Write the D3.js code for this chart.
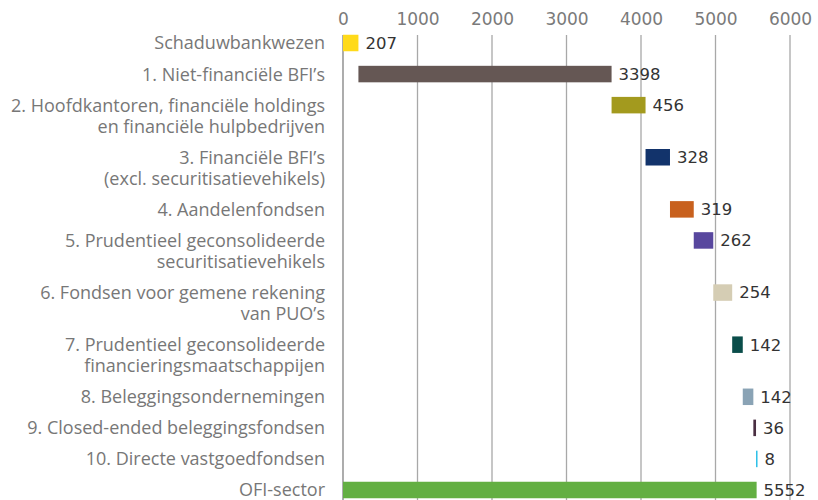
<!DOCTYPE html>
<html>
<head>
<meta charset="utf-8">
<script src="https://cdn.jsdelivr.net/npm/d3@7"></script>
<style>
  body { margin: 0; background: #fff; }
</style>
</head>
<body>
<div id="chart"></div>
<script>
// categories, each label split into its lines
var labels = [
  ["Schaduwbankwezen"],
  ["1. Niet-financiële BFI’s"],
  ["2. Hoofdkantoren, financiële holdings", "en financiële hulpbedrijven"],
  ["3. Financiële BFI’s", "(excl. securitisatievehikels)"],
  ["4. Aandelenfondsen"],
  ["5. Prudentieel geconsolideerde", "securitisatievehikels"],
  ["6. Fondsen voor gemene rekening", "van PUO’s"],
  ["7. Prudentieel geconsolideerde", "financieringsmaatschappijen"],
  ["8. Beleggingsondernemingen"],
  ["9. Closed-ended beleggingsfondsen"],
  ["10. Directe vastgoedfondsen"],
  ["OFI-sector"]
];
var values = [207, 3398, 456, 328, 319, 262, 254, 142, 142, 36, 8, 5552];
// true = bar starts at 0 (totals), false = floats on previous running sum
var isTotal = [true, false, false, false, false, false, false, false, false, false, false, true];
var colors = ["#ffda1a", "#655754", "#a39a1e", "#12336b", "#c8611e", "#58479e",
              "#d5cdb4", "#0a4d4a", "#8aa3b5", "#4a2f42", "#2cc0e8", "#63af42"];
var ticks = [0, 1000, 2000, 3000, 4000, 5000, 6000];

var width = 818, height = 500;
var x0 = 343, x1 = 790;
var lineStep = 21, rowStep = 31;

var svg = d3.select("#chart").append("svg")
    .attr("width", width)
    .attr("height", height);

var x = d3.scaleLinear().domain([0, 6000]).range([x0, x1]);

// running sums for the waterfall
var rows = [];
var run = 0;
values.forEach(function(v, i) {
  var start = isTotal[i] ? 0 : run;
  var end = start + v;
  if (!isTotal[i] || i === 0) run = end;
  rows.push({ label: labels[i], value: v, start: start, end: end, color: colors[i] });
});

// vertical position of each row (extra label lines add a smaller step)
var extra = 0;
rows.forEach(function(d, i) {
  d.u = i * rowStep + extra * lineStep;
  extra += d.label.length - 1;
});
var y = d3.scaleLinear()
    .domain([0, rows[rows.length - 1].u])
    .range([43, 490]);

// gridlines
svg.append("g").selectAll("line")
    .data(ticks.slice(1))
    .join("line")
    .attr("x1", function(d) { return x(d); })
    .attr("x2", function(d) { return x(d); })
    .attr("y1", 35)
    .attr("y2", height)
    .attr("stroke", "#a8a8a8")
    .attr("stroke-width", 1.3);

// top axis labels
var axis = d3.axisTop(x).tickValues(ticks).tickSize(0).tickPadding(0).tickFormat(d3.format("d"));
var ax = svg.append("g")
    .attr("transform", "translate(0,25)")
    .call(axis);
ax.select(".domain").remove();
ax.selectAll("text")
    .attr("font-family", "DejaVu Sans, sans-serif")
    .attr("font-size", 17)
    .attr("fill", "#7a7a7a");

// zero line
svg.append("line")
    .attr("x1", x(0)).attr("x2", x(0))
    .attr("y1", 35).attr("y2", height)
    .attr("stroke", "#808080")
    .attr("stroke-width", 1.3);

// bars
var barH = 16.5;
svg.append("g").selectAll("rect")
    .data(rows)
    .join("rect")
    .attr("x", function(d) { return x(d.start); })
    .attr("y", function(d) { return y(d.u) - barH / 2; })
    .attr("width", function(d) { return Math.max(1.5, x(d.end) - x(d.start)); })
    .attr("height", barH)
    .attr("fill", function(d) { return d.color; });

// value labels
svg.append("g").selectAll("text")
    .data(rows)
    .join("text")
    .attr("x", function(d) { return Math.max(x(d.end), x(d.start) + 1.5) + 7; })
    .attr("y", function(d) { return y(d.u); })
    .attr("dy", "0.36em")
    .attr("font-family", "DejaVu Sans, sans-serif")
    .attr("font-size", 16.5)
    .attr("fill", "#333")
    .text(function(d) { return d.value; });

// category labels
var cat = svg.append("g").selectAll("text")
    .data(rows)
    .join("text")
    .attr("x", x0 - 18)
    .attr("y", function(d) { return y(d.u); })
    .attr("text-anchor", "end")
    .attr("font-family", "Open Sans, sans-serif")
    .attr("font-size", 18)
    .attr("fill", "#777");
cat.selectAll("tspan")
    .data(function(d) { return d.label; })
    .join("tspan")
    .attr("x", x0 - 18)
    .attr("dy", function(d, i) { return i === 0 ? "0.36em" : lineStep + "px"; })
    .text(function(d) { return d; });
</script>
</body>
</html>
